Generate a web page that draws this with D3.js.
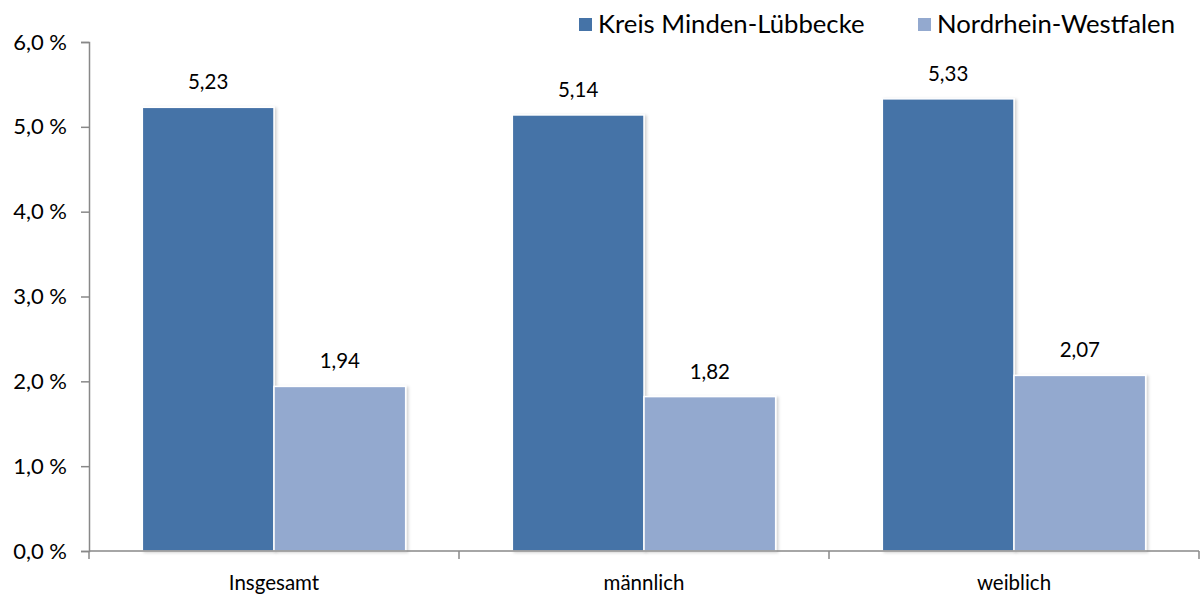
<!DOCTYPE html>
<html>
<head>
<meta charset="utf-8">
<script src="https://cdn.jsdelivr.net/npm/d3@7"></script>
<style>
  body { margin: 0; background: #fff; }
  text { font-family: Lato, "Open Sans", sans-serif; fill: #000; }
</style>
</head>
<body>
<div id="chart"></div>
<script>
// data
const categories = ["Insgesamt", "männlich", "weiblich"];
const seriesNames = ["Kreis Minden-Lübbecke", "Nordrhein-Westfalen"];
const kreisValues = [5.23, 5.14, 5.33];
const nrwValues = [1.94, 1.82, 2.07];
const yTicks = [0, 1, 2, 3, 4, 5, 6];

const colors = ["#4573a7", "#93a9cf"];
const width = 1200, height = 597;
const margin = { top: 42, right: 1, bottom: 46, left: 89 };

const svg = d3.select("#chart").append("svg")
    .attr("width", width)
    .attr("height", height);

const x = d3.scaleBand()
    .domain(categories)
    .range([margin.left, width - margin.right]);

const inner = d3.scaleBand()
    .domain(seriesNames)
    .range([0, x.bandwidth()])
    .paddingOuter(0.405)
    .paddingInner(0);

const y = d3.scaleLinear()
    .domain([0, 6])
    .range([height - margin.bottom, margin.top]);

// drop shadow for the bars
const defs = svg.append("defs");
const shadow = defs.append("filter")
    .attr("id", "shadow")
    .attr("x", "-10%").attr("y", "-10%")
    .attr("width", "130%").attr("height", "130%");
shadow.append("feDropShadow")
    .attr("dx", 2).attr("dy", 1)
    .attr("stdDeviation", 1.5)
    .attr("flood-color", "#000")
    .attr("flood-opacity", 0.18);

const rows = categories.map((c, i) => ({
    cat: c,
    vals: [kreisValues[i], nrwValues[i]]
}));

const groups = svg.append("g")
    .selectAll("g")
    .data(rows)
    .enter().append("g")
    .attr("transform", d => `translate(${x(d.cat)},0)`);

groups.selectAll("rect")
    .data(d => d.vals.map((v, j) => ({ name: seriesNames[j], v, j })))
    .enter().append("rect")
    .attr("x", d => inner(d.name))
    .attr("y", d => y(d.v))
    .attr("width", inner.bandwidth())
    .attr("height", d => y(0) - y(d.v))
    .attr("fill", d => colors[d.j])
    .attr("stroke", "#fff")
    .attr("stroke-width", 1.5)
    .style("filter", "url(#shadow)");

groups.selectAll("text.val")
    .data(d => d.vals.map((v, j) => ({ name: seriesNames[j], v, j })))
    .enter().append("text")
    .attr("class", "val")
    .attr("x", d => inner(d.name) + inner.bandwidth() / 2)
    .attr("y", d => y(d.v) - 18)
    .attr("text-anchor", "middle")
    .style("font-size", "20.5px")
    .text(d => d3.format(".2f")(d.v).replace(".", ","));

// y axis
const yAxis = svg.append("g")
    .attr("transform", `translate(${margin.left},0)`)
    .call(d3.axisLeft(y)
        .tickValues(yTicks)
        .tickSize(8)
        .tickPadding(14)
        .tickFormat(d => d3.format(".1f")(d).replace(".", ",") + " %"));
yAxis.select(".domain").attr("stroke", "#888").attr("stroke-width", 1.5);
yAxis.selectAll(".tick line").attr("stroke", "#888").attr("stroke-width", 1.5);
yAxis.selectAll(".tick text")
    .style("font-size", "22px")
    .style("font-family", "Lato, sans-serif")
    .attr("fill", "#000");

// x axis with ticks on category boundaries
const xg = svg.append("g");
xg.append("line")
    .attr("x1", margin.left).attr("x2", width - margin.right)
    .attr("y1", y(0)).attr("y2", y(0))
    .attr("stroke", "#888").attr("stroke-width", 1.5);
const bounds = categories.map(c => x(c)).concat([x.range()[1]]);
xg.selectAll("line.b")
    .data(bounds)
    .enter().append("line")
    .attr("class", "b")
    .attr("x1", d => d).attr("x2", d => d)
    .attr("y1", y(0)).attr("y2", y(0) + 8)
    .attr("stroke", "#888").attr("stroke-width", 1.5);
xg.selectAll("text")
    .data(categories)
    .enter().append("text")
    .attr("x", d => x(d) + x.bandwidth() / 2)
    .attr("y", y(0) + 39)
    .attr("text-anchor", "middle")
    .style("font-size", "20.5px")
    .text(d => d);

// legend
const legend = svg.append("g");
const legendX = [579, 918];
seriesNames.forEach((n, i) => {
    legend.append("rect")
        .attr("x", legendX[i]).attr("y", 18)
        .attr("width", 13).attr("height", 13)
        .attr("fill", colors[i]);
    legend.append("text")
        .attr("x", legendX[i] + 19).attr("y", 33)
        .style("font-size", "25.7px")
        .text(n);
});
</script>
</body>
</html>
